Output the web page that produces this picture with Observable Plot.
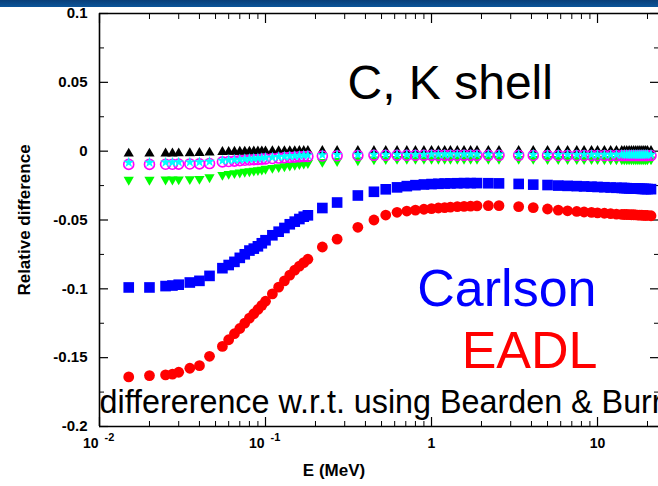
<!DOCTYPE html>
<html>
<head>
<meta charset="utf-8">
<script src="https://cdn.jsdelivr.net/npm/d3@7"></script>
<script src="https://cdn.jsdelivr.net/npm/@observablehq/plot@0.6"></script>
<style>
  html, body { margin: 0; padding: 0; background: #fff; overflow: hidden; }
  #wrap { position: relative; width: 658px; height: 486px; }
  #band { position: absolute; left: 0; top: 0; width: 658px; height: 7px;
          background: linear-gradient(#0a3f78, #0b559a); z-index: 2; }
</style>
</head>
<body>
<div id="wrap"><div id="band"></div><div id="chart"></div></div>
<script>
// Photon energies (MeV)
const E_MEV = [0.015, 0.02, 0.025, 0.0275, 0.03, 0.035, 0.04, 0.046,
  0.055, 0.06, 0.065, 0.07, 0.075, 0.08, 0.085, 0.09, 0.095, 0.1,
  0.11, 0.12, 0.13, 0.14, 0.15, 0.16, 0.17, 0.18,
  0.22, 0.27, 0.36, 0.45, 0.53, 0.62, 0.71, 0.8, 0.9,
  1.0, 1.1, 1.2, 1.3, 1.43, 1.57, 1.72, 1.88,
  2.2, 2.55, 3.35, 4.1, 5.0, 5.8, 6.6, 7.5, 8.3, 9.2,
  10, 11, 12, 13,
  14, 14.5, 15, 15.5, 16, 16.5, 17, 17.5, 18, 18.5, 19, 19.5, 20, 21];

const CARLSON = [-0.099, -0.099, -0.098, -0.0976, -0.097, -0.0954, -0.0942, -0.0906,
  -0.085, -0.0827, -0.0804, -0.0775, -0.0749, -0.0722, -0.0708, -0.0691, -0.0669, -0.0647,
  -0.0611, -0.0585, -0.0558, -0.0531, -0.0512, -0.0493, -0.0476, -0.0466,
  -0.0413, -0.0373, -0.0322, -0.0295, -0.0277, -0.0263, -0.0254, -0.0247, -0.0242,
  -0.0239, -0.0237, -0.0235, -0.0234, -0.0233, -0.0232, -0.0232, -0.0232,
  -0.0233, -0.0234, -0.0238, -0.0243, -0.0246, -0.025, -0.0252, -0.0254, -0.0256, -0.0258,
  -0.026, -0.0262, -0.0264, -0.0266,
  -0.0267, -0.0268, -0.0269, -0.027, -0.027, -0.0271, -0.0272, -0.0272, -0.0273, -0.0274, -0.0274, -0.0275, -0.0275, -0.0276];

const EADL = [-0.164, -0.163, -0.1625, -0.162, -0.1606, -0.1577, -0.1558, -0.149,
  -0.1418, -0.137, -0.1326, -0.1288, -0.1249, -0.1213, -0.1181, -0.115, -0.112, -0.109,
  -0.1037, -0.0988, -0.0942, -0.09, -0.0864, -0.0835, -0.081, -0.0785,
  -0.0696, -0.0639, -0.0553, -0.05, -0.0464, -0.0444, -0.0435, -0.0428, -0.0422,
  -0.0417, -0.0413, -0.041, -0.0406, -0.0403, -0.0401, -0.0399, -0.0397,
  -0.0396, -0.0396, -0.0403, -0.041, -0.042, -0.0428, -0.0433, -0.0438, -0.0442, -0.0445,
  -0.0448, -0.0451, -0.0454, -0.0457,
  -0.0459, -0.046, -0.046, -0.0461, -0.0462, -0.0462, -0.0463, -0.0464, -0.0465, -0.0465, -0.0466, -0.0467, -0.0467, -0.0469];

const GREEN_SERIES = [-0.0208, -0.0208, -0.0206, -0.0206, -0.0205, -0.0203, -0.0201, -0.019,
  -0.0172, -0.0165, -0.016, -0.0155, -0.015, -0.0146, -0.0142, -0.0138, -0.0134, -0.0128,
  -0.0122, -0.0116, -0.011, -0.0104, -0.0099, -0.0094, -0.009, -0.0086,
  -0.0078, -0.0072, -0.0066, -0.006, -0.0057, -0.0056, -0.0055, -0.0055, -0.0055,
  -0.0055, -0.0055, -0.0055, -0.0055, -0.0055, -0.0055, -0.0055, -0.0055,
  -0.0055, -0.0055, -0.0056, -0.0056, -0.0057, -0.0057, -0.0057, -0.0058, -0.0058, -0.0058,
  -0.0058, -0.0059, -0.0059, -0.0059,
  -0.006, -0.006, -0.006, -0.006, -0.006, -0.006, -0.006, -0.006, -0.006, -0.006, -0.006, -0.006, -0.006, -0.006];

const BLACK_SERIES = [-0.0018, -0.0018, -0.0017, -0.0017, -0.0016, -0.0015, -0.0013, -0.001,
  -0.0006, -0.0005, -0.0004, -0.0004, -0.0003, -0.0003, -0.0002, -0.0002, -0.0001, -0.0001,
  0, 0, 0, 0, 0, 0.0001, 0.0001, 0.0001,
  0.0001, 0.0001, 0.0001, 0.0001, 0.0001, 0.0001, 0.0001, 0.0001, 0.0001,
  0.0002, 0.0002, 0.0002, 0.0002, 0.0002, 0.0002, 0.0002, 0.0002,
  0.0002, 0.0002, 0.0002, 0.0002, 0.0002, 0.0002, 0.0002, 0.0002, 0.0002, 0.0002,
  0.0002, 0.0002, 0.0002, 0.0002,
  0.0001, 0.0001, 0.0001, 0.0001, 0.0001, 0.0001, 0.0001, 0.0001, 0.0001, 0.0001, 0.0001, 0.0001, 0.0001, 0.0001];

const MAGENTA_SERIES = [-0.0096, -0.0096, -0.0095, -0.0095, -0.0094, -0.0093, -0.0092, -0.009,
  -0.0078, -0.0075, -0.0072, -0.0069, -0.0066, -0.0064, -0.0062, -0.006, -0.0058, -0.0056,
  -0.0053, -0.005, -0.0047, -0.0045, -0.0043, -0.0041, -0.0039, -0.0038,
  -0.0035, -0.0033, -0.0031, -0.003, -0.003, -0.003, -0.003, -0.003, -0.003,
  -0.003, -0.003, -0.003, -0.003, -0.003, -0.003, -0.003, -0.003,
  -0.003, -0.003, -0.003, -0.0031, -0.0031, -0.0031, -0.0031, -0.0031, -0.0031, -0.0031,
  -0.0031, -0.0032, -0.0032, -0.0032,
  -0.0032, -0.0032, -0.0032, -0.0032, -0.0032, -0.0032, -0.0032, -0.0032, -0.0032, -0.0032, -0.0032, -0.0032, -0.0032, -0.0032];

const CYAN_SERIES = [-0.0082, -0.0082, -0.0081, -0.0081, -0.008, -0.008, -0.0079, -0.0076,
  -0.0068, -0.0065, -0.0062, -0.006, -0.0057, -0.0055, -0.0053, -0.0051, -0.0049, -0.0047,
  -0.0044, -0.0041, -0.0038, -0.0036, -0.0034, -0.0032, -0.003, -0.0029,
  -0.0027, -0.0026, -0.0025, -0.0024, -0.0024, -0.0024, -0.0024, -0.0024, -0.0024,
  -0.0023, -0.0023, -0.0023, -0.0023, -0.0023, -0.0023, -0.0023, -0.0023,
  -0.0023, -0.0023, -0.0024, -0.0024, -0.0024, -0.0024, -0.0024, -0.0025, -0.0025, -0.0025,
  -0.0025, -0.0025, -0.0025, -0.0025,
  -0.0025, -0.0025, -0.0025, -0.0025, -0.0025, -0.0025, -0.0025, -0.0025, -0.0025, -0.0025, -0.0025, -0.0025, -0.0025, -0.0025];

// Axis ticks and labels
const X_DOMAIN = [0.01, 23.3];
const Y_DOMAIN = [-0.2, 0.1];
const X_MAJOR = [0.01, 0.1, 1, 10];
const X_MINOR = [0.02, 0.03, 0.04, 0.05, 0.06, 0.07, 0.08, 0.09,
  0.2, 0.3, 0.4, 0.5, 0.6, 0.7, 0.8, 0.9,
  2, 3, 4, 5, 6, 7, 8, 9, 20];
const X_EXP_TICKS = [0.01, 0.1];
const X_EXP_BASE = ["10", "10"];
const X_EXP_POWER = ["-2", "-1"];
const X_PLAIN_TICKS = [1, 10];
const X_PLAIN_LABELS = ["1", "10"];
const Y_MAJOR = [0.1, 0.05, 0, -0.05, -0.1, -0.15, -0.2];
const Y_LABELS = ["0.1", "0.05", "0", "-0.05", "-0.1", "-0.15", "-0.2"];
const Y_MINOR = [0.075, 0.025, -0.025, -0.075, -0.125, -0.175];

const rows = (vals) => E_MEV.map((e, i) => ({e, v: vals[i]}));
const FONT = "'Liberation Sans', Arial, Helvetica, sans-serif";

const chart = Plot.plot({
  width: 658,
  height: 486,
  marginLeft: 99,
  marginRight: 0,
  marginTop: 13,
  marginBottom: 60,
  style: {fontFamily: FONT, background: "transparent", color: "black", overflow: "visible"},
  x: {type: "log", domain: X_DOMAIN, axis: null},
  y: {domain: Y_DOMAIN, axis: null},
  marks: [
    // tick marks (inward)
    Plot.axisX(X_MAJOR, {anchor: "bottom", tickSize: -9, tickFormat: () => "", label: null, strokeWidth: 1.2}),
    Plot.axisX(X_MINOR, {anchor: "bottom", tickSize: -5, tickFormat: () => "", label: null, strokeWidth: 1}),
    Plot.axisX(X_MAJOR, {anchor: "top", tickSize: -9, tickFormat: () => "", label: null, strokeWidth: 1.2}),
    Plot.axisX(X_MINOR, {anchor: "top", tickSize: -5, tickFormat: () => "", label: null, strokeWidth: 1}),
    Plot.axisY(Y_MAJOR, {anchor: "left", tickSize: -9, tickFormat: () => "", label: null, strokeWidth: 1.2}),
    Plot.axisY(Y_MINOR, {anchor: "left", tickSize: -5, tickFormat: () => "", label: null, strokeWidth: 1}),
    Plot.axisY(Y_MAJOR, {anchor: "right", tickSize: -9, tickFormat: () => "", label: null, strokeWidth: 1.2}),
    Plot.axisY(Y_MINOR, {anchor: "right", tickSize: -5, tickFormat: () => "", label: null, strokeWidth: 1}),
    // frame lines
    Plot.ruleX([X_DOMAIN[0]], {stroke: "black", strokeWidth: 1.6}),
    Plot.ruleY([Y_DOMAIN[0], Y_DOMAIN[1]], {stroke: "black", strokeWidth: 1.6}),
    // tick labels
    Plot.text(Y_MAJOR, {y: d => d, text: (d, i) => Y_LABELS[i], frameAnchor: "left", dx: -12,
      textAnchor: "end", lineAnchor: "middle", fontSize: 15, fontWeight: "bold"}),
    Plot.text(X_EXP_TICKS, {x: d => d, text: (d, i) => X_EXP_BASE[i], frameAnchor: "bottom", dx: -1, dy: 21,
      textAnchor: "end", lineAnchor: "bottom", fontSize: 14, fontWeight: "bold"}),
    Plot.text(X_EXP_TICKS, {x: d => d, text: (d, i) => X_EXP_POWER[i], frameAnchor: "bottom", dx: 5, dy: 14,
      textAnchor: "start", lineAnchor: "bottom", fontSize: 11, fontWeight: "bold"}),
    Plot.text(X_PLAIN_TICKS, {x: d => d, text: (d, i) => X_PLAIN_LABELS[i], frameAnchor: "bottom", dy: 21,
      textAnchor: "middle", lineAnchor: "bottom", fontSize: 14, fontWeight: "bold"}),
    // axis titles
    Plot.text(["E (MeV)"], {text: d => d, frameAnchor: "bottom", dx: -45, dy: 49, textAnchor: "middle",
      lineAnchor: "bottom", fontSize: 17, fontWeight: "bold"}),
    Plot.text(["Relative difference"], {text: d => d, frameAnchor: "left", dx: -75, rotate: -90,
      textAnchor: "middle", lineAnchor: "middle", fontSize: 17, fontWeight: "bold"}),
    // data
    Plot.dot(rows(BLACK_SERIES), {x: "e", y: "v", symbol: "triangle", r: 3.8, fill: "black", stroke: "none"}),
    Plot.dot(rows(GREEN_SERIES), {x: "e", y: "v", symbol: "triangle", rotate: 180, r: 3.8, fill: "#00ff00", stroke: "none"}),
    Plot.dot(rows(MAGENTA_SERIES), {x: "e", y: "v", symbol: "circle", r: 5.0, fill: "none", stroke: "#ff00ff", strokeWidth: 1.6}),
    Plot.dot(rows(CYAN_SERIES), {x: "e", y: "v", symbol: "star", r: 3.4, fill: "#00ffff", stroke: "none"}),
    Plot.dot(rows(CARLSON), {x: "e", y: "v", symbol: "square", r: 6.0, fill: "#0000ff", stroke: "none"}),
    Plot.dot(rows(EADL), {x: "e", y: "v", symbol: "circle", r: 5.4, fill: "#ff0000", stroke: "none"}),
    // annotations
    Plot.text(["C, K shell"], {text: d => d, frameAnchor: "top-left", dx: 248, dy: 85,
      textAnchor: "start", lineAnchor: "bottom", fontSize: 48, fill: "black"}),
    Plot.text(["Carlson"], {text: d => d, frameAnchor: "top-left", dx: 497, dy: 292,
      textAnchor: "end", lineAnchor: "bottom", fontSize: 52, fill: "#0000ff"}),
    Plot.text(["EADL"], {text: d => d, frameAnchor: "top-left", dx: 498, dy: 354,
      textAnchor: "end", lineAnchor: "bottom", fontSize: 52, fill: "#ff0000"}),
    Plot.text(["differerence w.r.t. using Bearden & Burr"], {text: d => d, frameAnchor: "top-left", dx: 0, dy: 399,
      textAnchor: "start", lineAnchor: "bottom", fontSize: 32.3, fill: "black"})
  ]
});
document.getElementById("chart").appendChild(chart);
</script>
</body>
</html>
